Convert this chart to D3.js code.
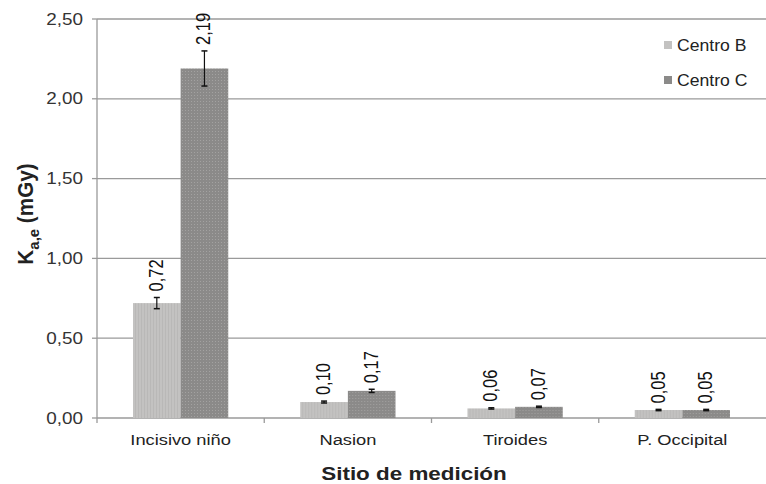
<!DOCTYPE html>
<html>
<head>
<meta charset="utf-8">
<script src="https://cdn.jsdelivr.net/npm/d3@7"></script>
<style>
  body { margin: 0; background: #fff; }
  text { font-family: "Liberation Sans", Arial, sans-serif; }
</style>
</head>
<body>
<svg id="chart" width="766" height="484"></svg>
<script>
// datos
const categories = ["Incisivo niño", "Nasion", "Tiroides", "P. Occipital"];
const seriesNames = ["Centro B", "Centro C"];
const centroB = [0.72, 0.10, 0.06, 0.05];
const centroC = [2.19, 0.17, 0.07, 0.05];
const errB = [0.035, 0.006, 0.004, 0.004];
const errC = [0.11, 0.01, 0.004, 0.004];
const yTicks = [0, 0.5, 1.0, 1.5, 2.0, 2.5];

const margin = {top: 19, right: 0, bottom: 66, left: 97},
    width = 766 - margin.left - margin.right,
    height = 484 - margin.top - margin.bottom;

// el texto del original está algo ensanchado
const SX = 1.18;

const svg = d3.select("#chart");
const defs = svg.append("defs");

// texturas de las barras
const patB = defs.append("pattern").attr("id", "patB")
    .attr("patternUnits", "userSpaceOnUse").attr("width", 3).attr("height", 3);
patB.append("rect").attr("width", 3).attr("height", 3).attr("fill", "#c3c2c1");
patB.append("rect").attr("x", 2).attr("width", 1).attr("height", 3).attr("fill", "#b9b8b7");

const patC = defs.append("pattern").attr("id", "patC")
    .attr("patternUnits", "userSpaceOnUse").attr("width", 3).attr("height", 3);
patC.append("rect").attr("width", 3).attr("height", 3).attr("fill", "#8b8a89");
patC.append("rect").attr("x", 1).attr("y", 1).attr("width", 1).attr("height", 1).attr("fill", "#a3a2a1");

const fills = ["url(#patB)", "url(#patC)"];
const legendFills = ["#c3c2c1", "#8b8a89"];

const g = svg.append("g").attr("transform", `translate(${margin.left},${margin.top})`);

const x0 = d3.scaleBand().domain(categories).range([0, width]).paddingInner(0).paddingOuter(0);
const x1 = d3.scaleBand().domain(seriesNames).range([36, x0.bandwidth() - 36]);
const y = d3.scaleLinear().domain([0, 2.5]).range([height, 0]);

const fmt = v => d3.format(".2f")(v).replace(".", ",");

// rejilla
g.selectAll(".grid").data(yTicks).enter().append("line")
    .attr("x1", 0).attr("x2", width)
    .attr("y1", d => y(d)).attr("y2", d => y(d))
    .attr("stroke", "#9a9a9a").attr("stroke-width", 1.3);

// eje y
g.append("line").attr("x1", 0).attr("x2", 0).attr("y1", y(2.5)).attr("y2", height + 5)
    .attr("stroke", "#9a9a9a").attr("stroke-width", 1.3);
g.selectAll(".ytick").data(yTicks).enter().append("line")
    .attr("x1", -5).attr("x2", 0).attr("y1", d => y(d)).attr("y2", d => y(d))
    .attr("stroke", "#9a9a9a").attr("stroke-width", 1.3);
g.selectAll(".ylab").data(yTicks).enter().append("text")
    .attr("transform", d => `translate(-14,${y(d)}) scale(${SX},1)`)
    .attr("dy", "0.35em")
    .attr("text-anchor", "end").attr("font-size", 16).attr("fill", "#333")
    .text(d => fmt(d));

// marcas del eje x
g.selectAll(".xtick").data(categories.slice(1)).enter().append("line")
    .attr("x1", d => x0(d)).attr("x2", d => x0(d))
    .attr("y1", height).attr("y2", height + 5)
    .attr("stroke", "#9a9a9a").attr("stroke-width", 1.3);
g.selectAll(".xlab").data(categories).enter().append("text")
    .attr("transform", d => `translate(${x0(d) + x0.bandwidth() / 2},${height + 27}) scale(${SX},1)`)
    .attr("text-anchor", "middle").attr("font-size", 15.5).attr("fill", "#222")
    .text(d => d);

// barras
const rows = categories.map((c, i) => ({
    cat: c,
    vals: [
        {s: seriesNames[0], v: centroB[i], e: errB[i], k: 0},
        {s: seriesNames[1], v: centroC[i], e: errC[i], k: 1}
    ]
}));

const grp = g.selectAll(".grp").data(rows).enter().append("g")
    .attr("transform", d => `translate(${x0(d.cat)},0)`);

const bar = grp.selectAll(".bar").data(d => d.vals).enter().append("g");

bar.append("rect")
    .attr("x", d => x1(d.s)).attr("width", x1.bandwidth())
    .attr("y", d => y(d.v)).attr("height", d => height - y(d.v))
    .attr("fill", d => fills[d.k]);

// barras de error
const cx = d => x1(d.s) + x1.bandwidth() / 2;
bar.append("line")
    .attr("x1", cx).attr("x2", cx)
    .attr("y1", d => y(d.v + d.e)).attr("y2", d => y(d.v - d.e))
    .attr("stroke", "#111").attr("stroke-width", 1.2);
bar.selectAll(".cap").data(d => [d.v + d.e, d.v - d.e].map(t => ({t, d}))).enter().append("line")
    .attr("x1", o => cx(o.d) - 3).attr("x2", o => cx(o.d) + 3)
    .attr("y1", o => y(o.t)).attr("y2", o => y(o.t))
    .attr("stroke", "#111").attr("stroke-width", 1.5);

// etiquetas de valor
bar.append("text")
    .attr("transform", d => `translate(${cx(d) + 6},${y(d.v + d.e) - 6}) scale(${SX},1) rotate(-90)`)
    .attr("font-size", 16.5).attr("fill", "#111")
    .text(d => fmt(d.v));

// leyenda
const legend = svg.append("g").attr("transform", "translate(664,45)");
seriesNames.forEach((s, i) => {
    legend.append("rect").attr("x", 0).attr("y", i * 35 - 4).attr("width", 8).attr("height", 8)
        .attr("fill", legendFills[i]);
    legend.append("text").attr("transform", `translate(13,${i * 35}) scale(1.1,1)`).attr("dy", "0.35em")
        .attr("font-size", 16).attr("fill", "#222").text(s);
});

// títulos de ejes
svg.append("text").attr("transform", `translate(414,480) scale(${SX},1)`)
    .attr("text-anchor", "middle").attr("font-size", 19).attr("font-weight", "bold").attr("fill", "#222")
    .text("Sitio de medición");

const yt = svg.append("text").attr("transform", `translate(33,214) scale(${SX},1.15) rotate(-90)`)
    .attr("text-anchor", "middle").attr("font-size", 18).attr("font-weight", "bold").attr("fill", "#222");
yt.append("tspan").text("K");
yt.append("tspan").attr("font-size", 13).attr("dy", 5).text("a,e");
yt.append("tspan").attr("dy", -5).text(" (mGy)");
</script>
</body>
</html>
